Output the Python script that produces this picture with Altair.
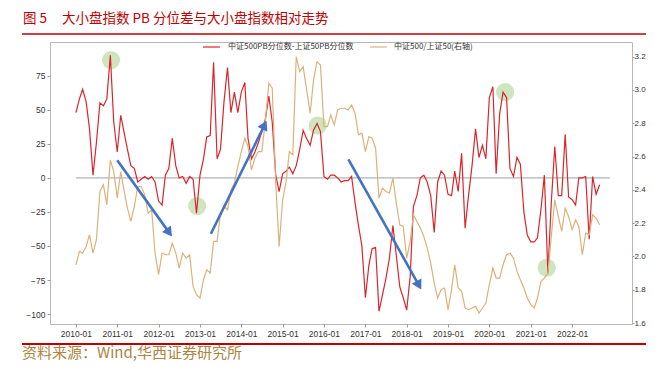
import altair as alt
import pandas as pd

# ---------------- data ----------------
dates = pd.date_range("2010-01-01", periods=153, freq="MS").strftime("%Y-%m-%d").tolist()

pb_diff = [48, 58, 65, 56, 36, 2, 26, 55, 53, 58,
           90, 41, 19, 46, 34, 21, 9, 7, -3, -1,
           1, -1, 1, -3, -17, -20, 2, 7, 29, 9,
           0, 1, -4, 1, -1, -26, 2, 14, 30, 31,
           85, 14, 21, 56, 81, 48, 63, 48, 63, 70,
           29, 14, 19, 26, 34, 43, 60, 41, 2, -10,
           3, 5, 8, 3, 9, 21, 35, 29, 24, 35,
           40, 34, 1, -1, 2, 2, 0, -3, -2, -2,
           1, -18, -35, -50, -88, -64, -52, -51, -98, -86,
           -74, -59, -35, -57, -80, -88, -97, -72, -21, -13,
           0, 2, -3, -13, -40, -3, 5, 2, -12, -13,
           5, -10, 18, -37, -13, 9, 36, 15, 24, 14,
           59, 67, 3, 47, 63, 59, 7, 1, 15, 10,
           -25, -42, -47, -47, -44, -23, 2, -70, -18, 23,
           -13, -13, 32, -14, -16, -20, 0, 0, 1, -45,
           1, -12, -5]

ratio = [1.95, 2.03, 2.02, 2.06, 2.13, 2.02, 2.10, 2.39, 2.43, 2.31,
         2.58, 2.51, 2.35, 2.51, 2.40, 2.29, 2.21, 2.30, 2.42, 2.42,
         2.37, 2.26, 2.28, 2.02, 1.89, 2.02, 2.01, 2.01, 2.08, 2.02,
         1.93, 2.02, 1.99, 2.01, 1.82, 1.77, 1.75, 1.86, 1.92, 1.90,
         2.09, 2.09, 2.26, 2.30, 2.28, 2.40, 2.44, 2.54, 2.63, 2.71,
         2.66, 2.52, 2.59, 2.63, 2.63, 2.81, 3.04, 3.01, 2.44, 2.06,
         2.34, 2.45, 2.63, 2.61, 3.20, 3.11, 3.14, 3.00, 2.86, 3.06,
         3.17, 3.15, 2.78, 2.78, 2.85, 2.79, 2.88, 2.89, 2.89, 2.88,
         2.91, 2.86, 2.73, 2.74, 2.63, 2.72, 2.71, 2.65, 2.35, 2.41,
         2.39, 2.38, 2.47, 2.32, 2.19, 2.18, 1.99, 2.09, 2.25, 2.21,
         2.17, 2.12, 2.05, 1.96, 1.84, 1.75, 1.80, 1.81, 1.68, 1.80,
         1.95, 1.81, 1.79, 1.69, 1.68, 1.69, 1.70, 1.66, 1.69, 1.72,
         1.83, 1.93, 1.87, 1.87, 1.95, 2.01, 2.02, 1.99, 1.91, 1.86,
         1.81, 1.75, 1.71, 1.69, 1.75, 1.85, 1.87, 1.90, 2.12, 2.34,
         2.24, 2.15, 2.29, 2.24, 2.16, 2.22, 2.18, 2.01, 2.14, 2.13,
         2.25, 2.23, 2.19]

zero_start = ["2010-01-01"]
zero_end = ["2022-12-01"]
zero_val = [0]

# highlighted points (green circles), on left axis
circle_dates = ["2010-11-07", "2012-12-07", "2015-11-07", "2020-05-19", "2021-05-22"]
circle_vals = [86.5, -20.7, 38.5, 63, -66]

# trend arrows (left axis units)
arrow_x1 = ["2011-01-01", "2013-04-07", "2016-08-04"]
arrow_y1 = [13, -41, 13.6]
arrow_x2 = ["2012-04-04", "2014-07-25", "2018-04-19"]
arrow_y2 = [-40.2, 38.8, -78.9]
arrow_angle = [144.3, 26.4, 150.7]

title_fig = "图 5"
title_main = "大小盘指数 PB 分位差与大小盘指数相对走势"
legend_red = "中证500PB分位数-上证50PB分位数"
legend_gold = "中证500/上证50(右轴)"
source_text = "资料来源：Wind,华西证券研究所"

left_ticks = [-100, -75, -50, -25, 0, 25, 50, 75]
right_ticks = [1.6, 1.8, 2.0, 2.2, 2.4, 2.6, 2.8, 3.0, 3.2]
year_ticks = list(range(2010, 2023))

# ---------------- styling ----------------
RED = "#d9262c"
GOLD = "#dcb27a"
TITLE_RED = "#c00000"
CJK = "Noto Sans CJK SC"

XDOM = [alt.DateTime(year=2009, month=5, date=17, utc=True),
        alt.DateTime(year=2023, month=6, date=14, utc=True)]
xscale = alt.Scale(type="utc", domain=XDOM)
lscale = alt.Scale(domain=[-107.3, 99.8], nice=False, zero=False)
rscale = alt.Scale(domain=[1.594, 3.288], nice=False, zero=False)

df = pd.DataFrame({"date": dates, "pb": pb_diff, "ratio": ratio})
zdf = pd.DataFrame({"d1": zero_start, "d2": zero_end, "v": zero_val})
cdf = pd.DataFrame({"d": circle_dates, "v": circle_vals})
adf = pd.DataFrame({"x1": arrow_x1, "y1": arrow_y1, "x2": arrow_x2,
                    "y2": arrow_y2, "ang": arrow_angle})

tick_ms = [int(pd.Timestamp(f"{y}-01-01", tz="UTC").value // 10**6) for y in year_ticks]
x_axis = alt.Axis(values=tick_ms, labelExpr="utcFormat(datum.value, '%Y-%m')", title=None,
                  labelFontSize=8.5, tickSize=3, labelPadding=2, labelOverlap=False)


def X(field):
    return alt.X(f"{field}:T", scale=xscale, axis=x_axis)


circles = alt.Chart(cdf).mark_point(shape="circle", filled=True, size=330,
                                    color="#c9e2b8", opacity=0.9).encode(
    x=X("d"), y=alt.Y("v:Q", scale=lscale, axis=None))

zero = alt.Chart(zdf).mark_rule(color="#c8c8c8", strokeWidth=1.6).encode(
    x=X("d1"), x2="d2:T", y=alt.Y("v:Q", scale=lscale, axis=None))

red = alt.Chart(df).mark_line(color=RED, strokeWidth=1.2).encode(
    x=X("date"),
    y=alt.Y("pb:Q", scale=lscale,
            axis=alt.Axis(values=left_ticks, format="d", orient="left", title=None,
                          tickSize=3, labelPadding=2)))

gold = alt.Chart(df).mark_line(color=GOLD, strokeWidth=1.2).encode(
    x=X("date"),
    y=alt.Y("ratio:Q", scale=rscale,
            axis=alt.Axis(values=right_ticks, format=".1f", orient="right", title=None,
                          tickSize=2, labelPadding=0, labelFontSize=8)))

shafts = alt.Chart(adf).mark_rule(color="#4472c4", strokeWidth=2.6).encode(
    x=X("x1"), x2="x2:T",
    y=alt.Y("y1:Q", scale=lscale, axis=None), y2="y2:Q")

heads = alt.Chart(adf).mark_point(shape="triangle-up", filled=True, size=120,
                                  color="#4472c4", opacity=1).encode(
    x=X("x2"), y=alt.Y("y2:Q", scale=lscale, axis=None),
    angle=alt.Angle("ang:Q", scale=None))


def text_layer(txt, x, y, size, color, font=CJK):
    return alt.Chart(pd.DataFrame({"t": [txt]})).mark_text(
        align="left", baseline="middle", fontSize=size, color=color, font=font).encode(
        x=alt.value(x), y=alt.value(y), text="t:N")


def hline(x1, x2, y, color, w):
    return alt.Chart(pd.DataFrame({"a": [0]})).mark_rule(color=color, strokeWidth=w).encode(
        x=alt.value(x1), x2=alt.value(x2), y=alt.value(y))


layers = [
    circles, zero, red, gold, shafts, heads,
    hline(153, 170, 5, RED, 1.2),
    text_layer(legend_red, 178, 5, 8, "#333333"),
    hline(320, 337, 5, GOLD, 1.2),
    text_layer(legend_gold, 344, 5, 8, "#333333"),
    text_layer(title_fig, -27, -23, 13.5, TITLE_RED),
    text_layer(title_main, 12, -23, 13.5, TITLE_RED),
    hline(-28, 600, -8, TITLE_RED, 1.5),
    hline(-28, 600, 302, TITLE_RED, 2.2),
    text_layer(source_text, -28, 311, 15, "#ad8440"),
]

chart = alt.layer(*layers).resolve_scale(y="independent").properties(
    width=582, height=282,
    autosize=alt.AutoSizeParams(type="none"),
    padding={"left": 42, "top": 34, "right": 14, "bottom": 37},
).configure_view(stroke="#b8b8b8", strokeWidth=1).configure_axis(
    labelFont="Liberation Sans", labelFontSize=8.5, labelColor="#333333",
    tickColor="#999999", domain=False, grid=False)

chart.save("out.html", embed_options={"renderer": "svg", "actions": False})
